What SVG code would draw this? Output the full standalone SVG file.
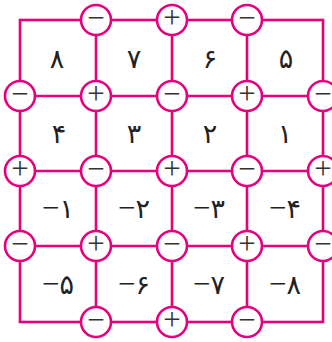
<svg xmlns="http://www.w3.org/2000/svg" width="332" height="342" viewBox="0 0 332 342">
<style>
.ln{stroke:#E6007E;stroke-width:2.6;fill:none}
.c{fill:#fff;stroke:#E6007E;stroke-width:2.6}
.s{font-family:"Liberation Serif",serif;font-size:31px;fill:#333;text-anchor:middle}
.t{font-family:"DejaVu Sans",sans-serif;font-size:27px;fill:#222;text-anchor:middle}
.m{font-family:"Liberation Serif",serif;font-size:31px}
</style>
<defs>
<g id="pl"><circle class="c" r="15"/><text class="s" y="8">+</text></g>
<g id="mi"><circle class="c" r="15"/><text class="s" y="8">−</text></g>
</defs>
<g id="connectors">
<rect class="ln" x="20" y="20" width="303" height="302"/>
<line class="ln" x1="96" y1="20" x2="96" y2="322"/>
<line class="ln" x1="172" y1="20" x2="172" y2="322"/>
<line class="ln" x1="247" y1="20" x2="247" y2="322"/>
<line class="ln" x1="20" y1="96" x2="323" y2="96"/>
<line class="ln" x1="20" y1="171" x2="323" y2="171"/>
<line class="ln" x1="20" y1="246" x2="323" y2="246"/>
</g>
<g id="cells">
<text class="t" x="57" y="67.5">۸</text>
<text class="t" x="134" y="67.5">۷</text>
<text class="t" x="210" y="67.5">۶</text>
<text class="t" x="286" y="67.5">۵</text>
<text class="t" x="59" y="143">۴</text>
<text class="t" x="134" y="143">۳</text>
<text class="t" x="210" y="143">۲</text>
<text class="t" x="285" y="143">۱</text>
<text class="t" x="58" y="218"><tspan class="m">−</tspan>۱</text>
<text class="t" x="134" y="218"><tspan class="m">−</tspan>۲</text>
<text class="t" x="209" y="218"><tspan class="m">−</tspan>۳</text>
<text class="t" x="285" y="218"><tspan class="m">−</tspan>۴</text>
<text class="t" x="58" y="293.5"><tspan class="m">−</tspan>۵</text>
<text class="t" x="134" y="293.5"><tspan class="m">−</tspan>۶</text>
<text class="t" x="209" y="293.5"><tspan class="m">−</tspan>۷</text>
<text class="t" x="285" y="293.5"><tspan class="m">−</tspan>۸</text>
</g>
<g id="signs">
<g id="n-0-1"><use href="#mi" x="96" y="20"/></g>
<g id="n-0-2"><use href="#pl" x="172" y="20"/></g>
<g id="n-0-3"><use href="#mi" x="247" y="20"/></g>
<g id="n-1-0"><use href="#mi" x="20" y="96"/></g>
<g id="n-1-1"><use href="#pl" x="96" y="96"/></g>
<g id="n-1-2"><use href="#mi" x="172" y="96"/></g>
<g id="n-1-3"><use href="#pl" x="247" y="96"/></g>
<g id="n-1-4"><use href="#mi" x="323" y="96"/></g>
<g id="n-2-0"><use href="#pl" x="20" y="171"/></g>
<g id="n-2-1"><use href="#mi" x="96" y="171"/></g>
<g id="n-2-2"><use href="#pl" x="172" y="171"/></g>
<g id="n-2-3"><use href="#mi" x="247" y="171"/></g>
<g id="n-2-4"><use href="#pl" x="323" y="171"/></g>
<g id="n-3-0"><use href="#mi" x="20" y="246"/></g>
<g id="n-3-1"><use href="#pl" x="96" y="246"/></g>
<g id="n-3-2"><use href="#mi" x="172" y="246"/></g>
<g id="n-3-3"><use href="#pl" x="247" y="246"/></g>
<g id="n-3-4"><use href="#mi" x="323" y="246"/></g>
<g id="n-4-1"><use href="#mi" x="96" y="322"/></g>
<g id="n-4-2"><use href="#pl" x="172" y="322"/></g>
<g id="n-4-3"><use href="#mi" x="247" y="322"/></g>
</g>
</svg>
